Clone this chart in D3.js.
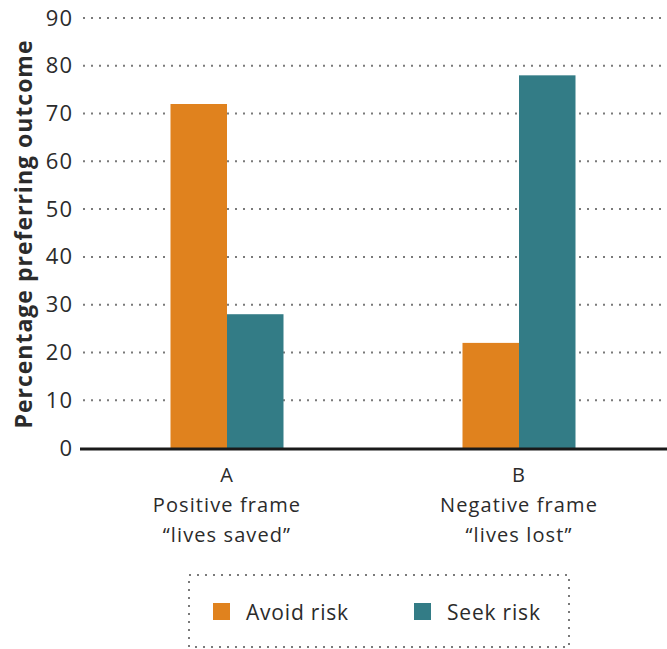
<!DOCTYPE html>
<html>
<head>
<meta charset="utf-8">
<script src="https://cdn.jsdelivr.net/npm/d3@7"></script>
<style>
  body { margin: 0; background: #fff; }
  text { font-family: "Open Sans", sans-serif; fill: #2b2b2b; }
</style>
</head>
<body>
<div id="chart"></div>
<script>
// Categories, series and values
var categories = ["A", "B"];
var categoryLines = [["A", "Positive frame", "\u201Clives saved\u201D"], ["B", "Negative frame", "\u201Clives lost\u201D"]];
var series = ["Avoid risk", "Seek risk"];
var avoidRisk = [72, 22];
var seekRisk = [28, 78];
var yTicks = [0, 10, 20, 30, 40, 50, 60, 70, 80, 90];
var colors = ["#E0821E", "#337C86"];

window.onload = function() {
    var width = 667, height = 649;

    const svg = d3.select("#chart")
        .append("svg")
        .attr("width", width)
        .attr("height", height);

    // Scales
    var y = d3.scaleLinear().domain([0, 90]).range([448, 18]);
    var x0 = d3.scaleBand().domain(categories).range([81, 665]).padding(0);
    var bw = x0.bandwidth();
    var x1 = d3.scaleBand().domain(series).range([bw / 2 - 56.5, bw / 2 + 56.5]).padding(0);

    // Gridlines (dotted)
    svg.append("g").selectAll("line")
        .data(yTicks.filter(function(d) { return d > 0; }))
        .enter().append("line")
        .attr("x1", 83).attr("x2", 667)
        .attr("y1", function(d) { return y(d); })
        .attr("y2", function(d) { return y(d); })
        .attr("stroke", "#7a7a7a")
        .attr("stroke-width", 2)
        .attr("stroke-dasharray", "2 6");

    // Y axis labels
    var yAxis = svg.append("g")
        .attr("transform", "translate(80,0)")
        .call(d3.axisLeft(y).tickValues(yTicks).tickSize(0).tickPadding(7));
    yAxis.select(".domain").remove();
    yAxis.selectAll("text")
        .style("font-family", "'Open Sans', sans-serif")
        .style("font-size", "22px")
        .style("letter-spacing", "1px")
        .attr("fill", "#2b2b2b");

    // Bars
    var rows = categories.map(function(c, i) {
        return { cat: c, values: [avoidRisk[i], seekRisk[i]] };
    });
    var groups = svg.append("g").selectAll("g")
        .data(rows)
        .enter().append("g")
        .attr("transform", function(d) { return "translate(" + x0(d.cat) + ",0)"; });
    groups.selectAll("rect")
        .data(function(d) { return d.values.map(function(v, j) { return { s: series[j], v: v, c: colors[j] }; }); })
        .enter().append("rect")
        .attr("x", function(d) { return x1(d.s); })
        .attr("width", x1.bandwidth())
        .attr("y", function(d) { return y(d.v); })
        .attr("height", function(d) { return y(0) - y(d.v); })
        .attr("fill", function(d) { return d.c; });

    // Baseline
    svg.append("line")
        .attr("x1", 80).attr("x2", 667)
        .attr("y1", y(0) + 1).attr("y2", y(0) + 1)
        .attr("stroke", "#1a1a1a")
        .attr("stroke-width", 3);

    // Category labels
    categoryLines.forEach(function(lines, i) {
        var t = svg.append("text")
            .attr("x", x0(categories[i]) + bw / 2)
            .attr("y", 482)
            .attr("text-anchor", "middle")
            .style("font-size", "20px")
            .style("letter-spacing", "1.1px");
        lines.forEach(function(l, k) {
            t.append("tspan")
                .attr("x", x0(categories[i]) + bw / 2)
                .attr("dy", k === 0 ? 0 : 30)
                .text(l);
        });
    });

    // Y title
    svg.append("text")
        .attr("transform", "translate(32," + 234 + ") rotate(-90)")
        .attr("text-anchor", "middle")
        .style("font-size", "23px")
        .style("font-weight", "bold")
        .style("letter-spacing", "1px")
        .text("Percentage preferring outcome");

    // Legend
    svg.append("rect")
        .attr("x", 189).attr("y", 575)
        .attr("width", 380).attr("height", 72)
        .attr("fill", "none")
        .attr("stroke", "#7a7a7a")
        .attr("stroke-width", 2)
        .attr("stroke-dasharray", "2 6");
    var legendX = [213, 414];
    series.forEach(function(s, i) {
        svg.append("rect")
            .attr("x", legendX[i]).attr("y", 603)
            .attr("width", 17).attr("height", 17)
            .attr("fill", colors[i]);
        svg.append("text")
            .attr("x", legendX[i] + 33)
            .attr("y", 620)
            .style("font-size", "21px")
            .style("letter-spacing", "0.8px")
            .text(s);
    });
};
</script>
</body>
</html>
